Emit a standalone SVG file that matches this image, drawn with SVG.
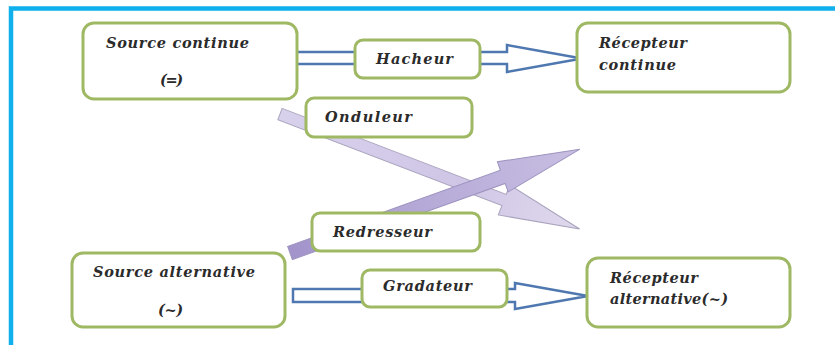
<svg xmlns="http://www.w3.org/2000/svg" width="835" height="345" viewBox="0 0 835 345">
<style>
.box{fill:#ffffff;stroke:#9fb863;stroke-width:3}
.lbl{font-family:"DejaVu Serif","Liberation Serif",serif;font-weight:bold;font-style:italic;font-size:14.5px;fill:#2b2b2b}
.blk{fill:#ffffff;stroke:#4f78b0;stroke-width:2.5;stroke-linejoin:miter}
</style>
<defs>
<linearGradient id="gOnd" x1="0" y1="0" x2="1" y2="0">
<stop offset="0" stop-color="#d8d1ec"/>
<stop offset="0.6" stop-color="#cfc6e6"/>
<stop offset="1" stop-color="#dfd9ec"/>
</linearGradient>
<linearGradient id="gRed" x1="0" y1="0" x2="1" y2="0">
<stop offset="0" stop-color="#a294cb"/>
<stop offset="0.5" stop-color="#b7abd8"/>
<stop offset="1" stop-color="#c8bfe2"/>
</linearGradient>
</defs>
<rect x="0" y="0" width="835" height="345" fill="#ffffff"/>
<path d="M11 345 V8.5 H835" fill="none" stroke="#0fb0ec" stroke-width="4.5"/>

<g id="connectors">
<polygon class="blk" points="296,52 507,52 507,45 582,58.5 507,72 507,64 296,64"/>
<polygon class="blk" points="293,289 515,289 515,283 588,296 515,309 515,302 293,302"/>
<g transform="translate(280,114) rotate(21)">
<polygon points="0,-6 240,-6 240,-16 321,0 240,16 240,6 0,6" fill="url(#gOnd)" stroke="#a9a2bd" stroke-width="1"/>
</g>
<g transform="translate(290,253) rotate(-19.7)">
<polygon points="0,-7 226,-7 226,-16 308,0 226,16 226,7 0,7" fill="url(#gRed)" stroke="#9d93bf" stroke-width="1"/>
</g>
</g>

<g id="source-continue">
<rect class="box" x="83" y="23" width="214" height="76" rx="11"/>
<text class="lbl" x="106" y="48" textLength="143" lengthAdjust="spacing">Source continue</text>
<text class="lbl" x="160" y="85" textLength="23" lengthAdjust="spacing">(=)</text>
</g>
<g id="hacheur">
<rect class="box" x="355" y="40" width="125" height="38" rx="8"/>
<text class="lbl" x="376" y="64" textLength="77" lengthAdjust="spacing">Hacheur</text>
</g>
<g id="recepteur-continue">
<rect class="box" x="577" y="23" width="213" height="69" rx="11"/>
<text class="lbl" x="599" y="48" textLength="88" lengthAdjust="spacing">Récepteur</text>
<text class="lbl" x="599" y="70" textLength="77" lengthAdjust="spacing">continue</text>
</g>
<g id="onduleur">
<rect class="box" x="306" y="98" width="166" height="39" rx="8"/>
<text class="lbl" x="325" y="122" textLength="87" lengthAdjust="spacing">Onduleur</text>
</g>
<g id="redresseur">
<rect class="box" x="312" y="213" width="168" height="38" rx="8"/>
<text class="lbl" x="333" y="237" textLength="99" lengthAdjust="spacing">Redresseur</text>
</g>
<g id="source-alternative">
<rect class="box" x="72" y="253" width="213" height="74" rx="11"/>
<text class="lbl" x="93" y="277" textLength="162" lengthAdjust="spacing">Source alternative</text>
<text class="lbl" x="158" y="315" textLength="25" lengthAdjust="spacing">(~)</text>
</g>
<g id="gradateur">
<rect class="box" x="362" y="270" width="145" height="37" rx="8"/>
<text class="lbl" x="383" y="291" textLength="89" lengthAdjust="spacing">Gradateur</text>
</g>
<g id="recepteur-alternative">
<rect class="box" x="587" y="258" width="203" height="69" rx="11"/>
<text class="lbl" x="610" y="283" textLength="88" lengthAdjust="spacing">Récepteur</text>
<text class="lbl" x="610" y="304" textLength="118" lengthAdjust="spacing">alternative(~)</text>
</g>
</svg>
